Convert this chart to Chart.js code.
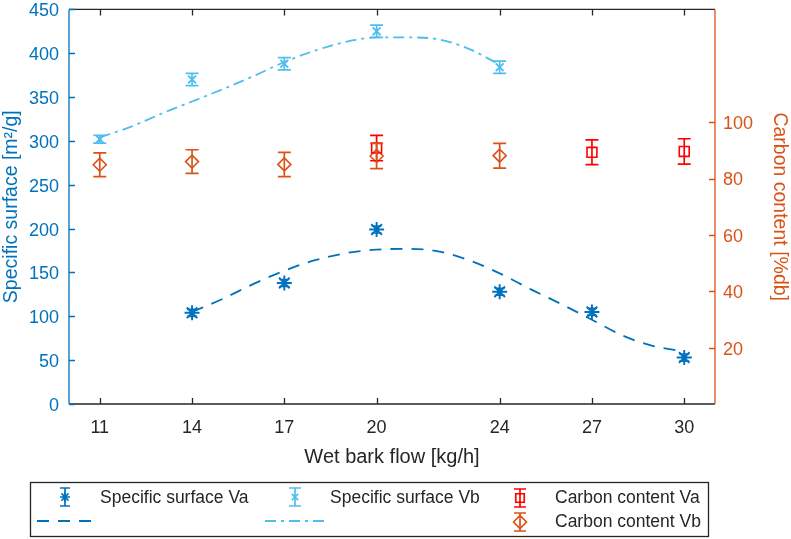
<!DOCTYPE html>
<html><head><meta charset="utf-8">
<script src="https://cdn.jsdelivr.net/npm/chart.js@4"></script>
<style>html,body{margin:0;padding:0;background:#fff;}canvas{display:block;}</style>
</head><body>
<canvas id="c" width="791" height="539"></canvas>
<script>
// ---- data ----
const flowTicks = [11, 14, 17, 20, 24, 27, 30];
const leftTicks = [0, 50, 100, 150, 200, 250, 300, 350, 400, 450];
const rightTicks = [20, 40, 60, 80, 100];

const flowVa = [14, 17, 20, 24, 27, 30];
const surfVa = [104, 138, 199, 128, 105, 53];
const surfVaErr = [4, 4, 4, 4, 4, 4];

const flowVb = [11, 14, 17, 20, 24];
const surfVb = [302, 370, 388, 425, 384];
const surfVbErr = [4.5, 7, 7, 7, 7];

const flowCVa = [20, 27, 30];
const carbonVa = [90.8, 89.3, 89.6];
const carbonVaErr = [4.5, 4.4, 4.5];

const flowCVb = [11, 14, 17, 20, 24];
const carbonVb = [84.9, 86.0, 85.0, 88.0, 88.1];
const carbonVbErr = [4.2, 4.2, 4.3, 4.5, 4.4];

const fitVaX = [14, 15, 16, 17, 18, 19, 20, 21, 22, 23, 24, 25, 26, 27, 28, 29, 30];
const fitVaY = [105, 120, 137, 152, 164, 172, 176, 177, 174, 164, 149, 131, 114, 96, 78, 66, 60];

const fitVbX = [11, 12, 13, 14, 15, 16, 17, 18, 19, 20, 21, 22, 23, 24];
const fitVbY = [304, 316, 331, 345, 359, 374, 390, 403, 413, 418, 418, 416, 405, 387];

// ---- style ----
const FONT = '"Liberation Sans", Arial, Helvetica, sans-serif';
const C_VA = '#0072BD', C_VB = '#4DBEEE', C_CVA = '#FF0000', C_CVB = '#D95319', C_AX = '#262626';

const pts = (xs, ys) => xs.map((x, i) => ({x: x, y: ys[i]}));

const errPlugin = {
  id: 'errbars',
  afterDatasetsDraw(chart) {
    const ctx = chart.ctx;
    chart.data.datasets.forEach((ds, i) => {
      if (!ds.errors) return;
      const xs = chart.scales.x, ys = chart.scales[ds.yAxisID || 'y'];
      ctx.save();
      ctx.strokeStyle = ds.borderColor; ctx.lineWidth = 1.7;
      ds.data.forEach((p, j) => {
        const e = ds.errors[j];
        const px = xs.getPixelForValue(p.x);
        const y1 = ys.getPixelForValue(p.y + e), y2 = ys.getPixelForValue(p.y - e);
        const cw = ds.capHalf;
        ctx.beginPath();
        ctx.moveTo(px, y1); ctx.lineTo(px, y2);
        ctx.moveTo(px - cw, y1); ctx.lineTo(px + cw, y1);
        ctx.moveTo(px - cw, y2); ctx.lineTo(px + cw, y2);
        ctx.stroke();
      });
      ctx.restore();
    });
  }
};

const axesPlugin = {
  id: 'axesframe',
  afterDraw(chart) {
    const ctx = chart.ctx, a = chart.chartArea;
    const sx = chart.scales.x, sy = chart.scales.y, sy1 = chart.scales.y1;
    ctx.save();
    ctx.lineWidth = 1.3;
    ctx.strokeStyle = C_AX;
    ctx.beginPath();
    ctx.moveTo(a.left, a.top); ctx.lineTo(a.right, a.top);
    ctx.moveTo(a.left, a.bottom); ctx.lineTo(a.right, a.bottom);
    flowTicks.forEach(v => {
      const px = Math.round(sx.getPixelForValue(v)) + 0.5;
      ctx.moveTo(px, a.bottom); ctx.lineTo(px, a.bottom - 6);
      ctx.moveTo(px, a.top); ctx.lineTo(px, a.top + 6);
    });
    ctx.stroke();
    ctx.strokeStyle = C_VA;
    ctx.beginPath();
    ctx.moveTo(a.left, a.top); ctx.lineTo(a.left, a.bottom);
    leftTicks.forEach(v => {
      const py = Math.round(sy.getPixelForValue(v)) + 0.5;
      ctx.moveTo(a.left, py); ctx.lineTo(a.left + 6, py);
    });
    ctx.stroke();
    ctx.strokeStyle = C_CVB;
    ctx.beginPath();
    ctx.moveTo(a.right, a.top); ctx.lineTo(a.right, a.bottom);
    rightTicks.forEach(v => {
      const py = Math.round(sy1.getPixelForValue(v)) + 0.5;
      ctx.moveTo(a.right, py); ctx.lineTo(a.right - 6, py);
    });
    ctx.stroke();
    ctx.restore();
  }
};

const legendPlugin = {
  id: 'customlegend',
  afterDraw(chart) {
    const ctx = chart.ctx;
    const dp = Chart.helpers.drawPoint;
    ctx.save();
    ctx.fillStyle = '#fff';
    ctx.fillRect(30, 482, 679, 55);
    ctx.strokeStyle = C_AX; ctx.lineWidth = 1.3;
    ctx.strokeRect(30.5, 482.5, 678, 54);
    const r1 = 498, r2 = 522;
    function ebar(x, y, color, cw) {
      ctx.strokeStyle = color; ctx.lineWidth = 1.7;
      ctx.beginPath();
      ctx.moveTo(x, y - 9); ctx.lineTo(x, y + 9);
      ctx.moveTo(x - cw, y - 9); ctx.lineTo(x + cw, y - 9);
      ctx.moveTo(x - cw, y + 9); ctx.lineTo(x + cw, y + 9);
      ctx.stroke();
    }
    function mark(x, y, color, style, r) {
      ctx.strokeStyle = color; ctx.fillStyle = 'rgba(0,0,0,0)';
      dp(ctx, {pointStyle: style, radius: r, rotation: 0, borderWidth: 1.7}, x, y);
    }
    function line(x1, x2, y, color, dash) {
      ctx.strokeStyle = color; ctx.lineWidth = 1.8; ctx.setLineDash(dash);
      ctx.beginPath(); ctx.moveTo(x1, y); ctx.lineTo(x2, y); ctx.stroke();
      ctx.setLineDash([]);
    }
    ebar(65, r1 - 1, C_VA, 5); mark(65, r1 - 1, C_VA, 'star', 5);
    line(37, 95, r2 - 1, C_VA, [12, 9]);
    ebar(295, r1 - 1, C_VB, 6); mark(295, r1 - 1, C_VB, 'crossRot', 4.5);
    line(265, 324, r2 - 1, C_VB, [11, 5, 3, 5]);
    ebar(520, r1, C_CVA, 6); mark(520, r1, C_CVA, 'rect', 6);
    ebar(520, r2, C_CVB, 6); mark(520, r2, C_CVB, 'rectRot', 6.5);
    ctx.fillStyle = C_AX;
    ctx.font = '17.5px ' + FONT;
    ctx.textBaseline = 'middle'; ctx.textAlign = 'left';
    ctx.fillText('Specific surface Va', 100, r1);
    ctx.fillText('Specific surface Vb', 330, r1);
    ctx.fillText('Carbon content Va', 555, r1);
    ctx.fillText('Carbon content Vb', 555, r2);
    ctx.restore();
  }
};

const ptBase = {showLine: false, pointBackgroundColor: 'rgba(0,0,0,0)', pointBorderWidth: 1.9, pointHoverRadius: 0};

new Chart(document.getElementById('c'), {
  type: 'line',
  data: {
    datasets: [
      Object.assign({label: 'Specific surface Va', data: pts(flowVa, surfVa), errors: surfVaErr, capHalf: 5,
        borderColor: C_VA, pointBorderColor: C_VA, pointStyle: 'star', pointRadius: 7.5, yAxisID: 'y'}, ptBase),
      Object.assign({label: 'Specific surface Vb', data: pts(flowVb, surfVb), errors: surfVbErr, capHalf: 6.5,
        borderColor: C_VB, pointBorderColor: C_VB, pointStyle: 'crossRot', pointRadius: 5.5, yAxisID: 'y'}, ptBase),
      Object.assign({label: 'Carbon content Va', data: pts(flowCVa, carbonVa), errors: carbonVaErr, capHalf: 6.5,
        borderColor: C_CVA, pointBorderColor: C_CVA, pointStyle: 'rect', pointRadius: 7, yAxisID: 'y1'},
        Object.assign({}, ptBase, {pointBorderWidth: 1.6})),
      Object.assign({label: 'Carbon content Vb', data: pts(flowCVb, carbonVb), errors: carbonVbErr, capHalf: 6.5,
        borderColor: C_CVB, pointBorderColor: C_CVB, pointStyle: 'rectRot', pointRadius: 6.5, yAxisID: 'y1'},
        Object.assign({}, ptBase, {pointBorderWidth: 1.6})),
      {label: 'Fit Va', data: pts(fitVaX, fitVaY), borderColor: C_VA, borderWidth: 1.8, borderDash: [12, 9],
        pointRadius: 0, cubicInterpolationMode: 'monotone', fill: false, yAxisID: 'y'},
      {label: 'Fit Vb', data: pts(fitVbX, fitVbY), borderColor: C_VB, borderWidth: 1.8, borderDash: [11, 5, 3, 5],
        pointRadius: 0, cubicInterpolationMode: 'monotone', fill: false, yAxisID: 'y'}
    ]
  },
  options: {
    responsive: false, animation: false, events: [],
    layout: {padding: {top: 8, bottom: 69, left: 0, right: 0}},
    plugins: {legend: {display: false}, tooltip: {enabled: false}},
    scales: {
      x: {
        type: 'linear', min: 10, max: 31,
        afterBuildTicks: s => { s.ticks = flowTicks.map(v => ({value: v})); },
        grid: {display: false, drawTicks: false}, border: {display: false},
        ticks: {color: C_AX, font: {family: FONT, size: 18}, padding: 13, maxRotation: 0, autoSkip: false},
        title: {display: true, text: 'Wet bark flow [kg/h]', color: C_AX, font: {family: FONT, size: 20}, padding: {top: 0, bottom: 1}},
        afterFit: s => { s.height = 66; s.paddingLeft = 0; s.paddingRight = 0; }
      },
      y: {
        position: 'left', min: 0, max: 450,
        afterBuildTicks: s => { s.ticks = leftTicks.map(v => ({value: v})); },
        grid: {display: false, drawTicks: false}, border: {display: false},
        ticks: {color: C_VA, font: {family: FONT, size: 18}, padding: 10, labelOffset: 2},
        title: {display: true, text: 'Specific surface [m²/g]', color: C_VA, font: {family: FONT, size: 19.5}, padding: {top: 0, bottom: 0}},
        afterFit: s => { s.width = 69; s.paddingTop = 0; s.paddingBottom = 0; }
      },
      y1: {
        position: 'right', min: 0, max: 140,
        afterBuildTicks: s => { s.ticks = rightTicks.map(v => ({value: v})); },
        grid: {display: false, drawTicks: false}, border: {display: false},
        ticks: {color: C_CVB, font: {family: FONT, size: 18}, padding: 8, labelOffset: 2},
        title: {display: true, text: 'Carbon content [%db]', color: C_CVB, font: {family: FONT, size: 19.5}, padding: {top: 0, bottom: 0}},
        afterFit: s => { s.width = 76; s.paddingTop = 0; s.paddingBottom = 0; }
      }
    }
  },
  plugins: [errPlugin, axesPlugin, legendPlugin]
});
</script>
</body></html>
